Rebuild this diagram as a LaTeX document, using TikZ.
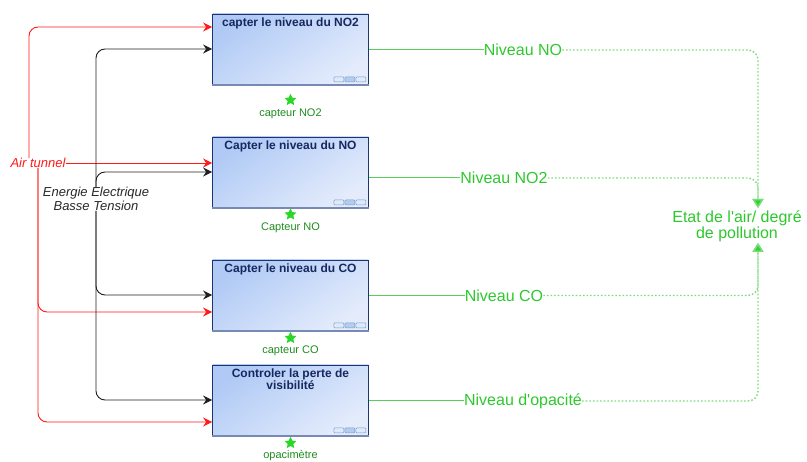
\documentclass[tikz,border=0pt]{standalone}
\usepackage{fontspec}
\setmainfont{Liberation Sans}[Ligatures=TeXOff]
\usetikzlibrary{arrows.meta,shapes.geometric}
\definecolor{navy}{RGB}{28,52,112}
\definecolor{titlecol}{RGB}{22,40,96}
\definecolor{boxtl}{RGB}{176,202,245}
\definecolor{boxbr}{RGB}{228,236,252}
\definecolor{boxbot}{RGB}{118,138,180}
\definecolor{gtext}{RGB}{45,200,45}
\definecolor{gline}{RGB}{85,208,85}
\definecolor{gdot}{RGB}{125,218,125}
\definecolor{gsens}{RGB}{30,140,30}
\definecolor{gstar}{RGB}{40,215,40}
\definecolor{icond}{RGB}{120,155,205}
\definecolor{iconf}{RGB}{222,233,250}
\definecolor{iconm}{RGB}{180,205,238}
\definecolor{redl}{RGB}{255,25,25}
\definecolor{blkl}{RGB}{30,30,30}
\definecolor{engc}{RGB}{40,40,40}
\begin{document}
\begin{tikzpicture}[x=1pt,y=-1pt,
  box/.style={draw=navy, line width=0.8pt, minimum width=156pt, minimum height=70pt,
    inner sep=0pt, top color=boxtl, bottom color=boxbr, shading angle=35},
  boxtitle/.style={anchor=north, align=center, inner sep=0pt, text=titlecol,
    font=\bfseries\fontsize{12}{12}\selectfont},
  sensstar/.style={star, star points=5, star point ratio=2.1, minimum size=12.5pt,
    inner sep=0pt, fill=gstar, draw=none},
  senslabel/.style={inner sep=0pt, text=gsens, font=\fontsize{11}{12}\selectfont},
  glabel/.style={inner sep=0pt, text=gtext, font=\fontsize{16}{16}\selectfont},
  redarr/.style={draw=redl, line width=0.9pt, rounded corners=9pt,
    -{Stealth[length=9pt,width=9pt,inset=3pt]}},
  blkarr/.style={draw=blkl, line width=0.9pt, rounded corners=9pt,
    -{Stealth[length=9pt,width=9pt,inset=3pt]}},
  gsolid/.style={draw=gline, line width=1pt},
  gdotted/.style={draw=gdot, line width=1.4pt, dash pattern=on 1.6pt off 2pt,
    rounded corners=10pt, -{Triangle[length=9pt,width=11pt,fill=gstar]}},
  inlabel/.style={inner sep=0pt, font=\itshape\fontsize{13}{14}\selectfont, align=center},
  iconbox/.style={draw=icond, line width=0.6pt, rounded corners=1pt}
]
\useasboundingbox (0,0) rectangle (807,462);

% boxes
\node[box] (b1) at (290.5,49) {};
\node[box] (b2) at (290.5,172) {};
\node[box] (b3) at (290.5,295) {};
\node[box] (b4) at (290.5,400) {};

\foreach \b in {b1,b2,b3,b4}{
  \draw[boxbot, line width=1.6pt] ([yshift=-0.4pt]\b.south west) -- ([yshift=-0.4pt]\b.south east);
  \draw[iconbox, fill=iconf] ([xshift=-35pt,yshift=2.5pt]\b.south east) rectangle ++(10pt,5pt);
  \draw[iconbox, fill=iconm] ([xshift=-24pt,yshift=2.5pt]\b.south east) rectangle ++(10pt,5pt);
  \draw[iconbox, fill=iconf] ([xshift=-13pt,yshift=2.5pt]\b.south east) rectangle ++(10pt,5pt);
}

% titles
\node[boxtitle] (t1) at ([yshift=-4.5pt]b1.north) {capter le niveau du NO2};
\node[boxtitle] (t2) at ([yshift=-4.5pt]b2.north) {Capter le niveau du NO};
\node[boxtitle] (t3) at ([yshift=-4.5pt]b3.north) {Capter le niveau du CO};
\node[boxtitle] (t4) at ([yshift=-4.5pt]b4.north) {Controler la perte de\\visibilité};

% sensors
\node[sensstar] (s1) at (290.5,100) {};
\node[senslabel] (c1) at (290.5,114) {capteur NO2};
\node[sensstar] (s2) at (290.5,214.5) {};
\node[senslabel] (c2) at (290.5,228) {Capteur NO};
\node[sensstar] (s3) at (290.5,338) {};
\node[senslabel] (c3) at (290.5,351) {capteur CO};
\node[sensstar] (s4) at (290.5,443) {};
\node[senslabel] (c4) at (290.5,456) {opacimètre};

% inputs
\node[inlabel, text=redl] (air) at (38,163) {Air tunnel};
\node[inlabel, text=engc] (en) at (96,199) {Energie Electrique\\Basse Tension};

\draw[redarr] ([xshift=-9pt]air.north) |- ([yshift=22pt]b1.west);
\draw[redarr] (air.east) -- (air.east -| b2.west);
\draw[redarr] (air.south) |- ([yshift=-17pt]b3.west);
\draw[redarr] (air.south) |- ([yshift=-22pt]b4.west);

\draw[blkarr] (en.north) |- (b1.west);
\draw[blkarr] (en.north) |- (b2.west);
\draw[blkarr] (en.south) |- (b3.west);
\draw[blkarr] (en.south) |- (b4.west);

% outputs
\node[glabel] (n1) at (523,50) {Niveau NO};
\node[glabel] (n2) at (504,178) {Niveau NO2};
\node[glabel] (n3) at (504,295.5) {Niveau CO};
\node[glabel] (n4) at (523,401) {Niveau d'opacité};
\node[glabel, align=center] (etat) at (737,226) {Etat de l'air/ degré\\de pollution};
\coordinate (etop) at (758,208);
\coordinate (ebot) at (758,243);

\draw[gsolid] (b1.east |- n1.west) -- (n1.west);
\draw[gsolid] (b2.east |- n2.west) -- (n2.west);
\draw[gsolid] (b3.east |- n3.west) -- (n3.west);
\draw[gsolid] (b4.east |- n4.west) -- (n4.west);

\draw[gdotted] (n1.east) -| (etop);
\draw[gdotted] (n2.east) -| (etop);
\draw[gdotted] (n3.east) -| (ebot);
\draw[gdotted] (n4.east) -| (ebot);
\end{tikzpicture}
\end{document}
